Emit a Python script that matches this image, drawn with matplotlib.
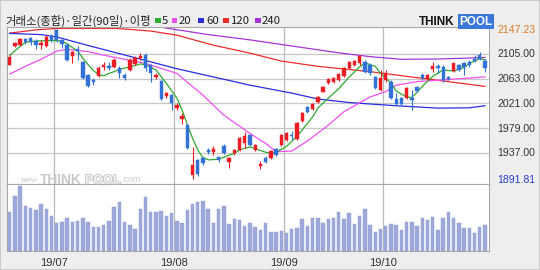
import matplotlib
matplotlib.use("Agg")
import matplotlib.pyplot as plt
from matplotlib.patches import Rectangle
from matplotlib.transforms import blended_transform_factory
import matplotlib.patheffects as pe
import numpy as np

# ---------------- data ----------------
opens = [2087, 2119, 2121, 2131, 2132, 2127, 2120, 2119, 2136, 2146,
         2128, 2120, 2102, 2113, 2091, 2069, 2061, 2068, 2083, 2085,
         2083, 2081, 2069, 2078, 2088, 2098, 2103, 2086, 2066, 2059,
         2033, 2035, 2014, 1995, 1984, 1899, 1925, 1928, 1941, 1939,
         1930, 1948, 1921, 1936, 1942, 1953, 1967, 1942, 1914, 1929,
         1928, 1944, 1950, 1959, 1967, 1960, 1991, 2015, 2011, 2023,
         2041, 2056, 2057, 2061, 2068, 2081, 2087, 2089, 2092, 2086,
         2066, 2044, 2061, 2058, 2028, 2030, 2030, 2031, 2049, 2069,
         2063, 2079, 2085, 2083, 2066, 2076, 2086, 2089, 2092, 2097,
         2104, 2093]
highs = [2104, 2126, 2133, 2133, 2134, 2130, 2129, 2137, 2139, 2147.23,
         2131, 2123, 2110, 2118, 2093, 2071, 2064, 2084, 2091, 2092,
         2099, 2084, 2073, 2098, 2101, 2106, 2106, 2088, 2072, 2061,
         2040, 2037, 2021, 2004, 1986, 1947, 1927, 1930, 1946, 1948,
         1932, 1952, 1930, 1943, 1964, 1973, 1969, 1952, 1923, 1931,
         1942, 1946, 1969, 1973, 1974, 1989, 2006, 2017, 2022, 2034,
         2051, 2065, 2066, 2073, 2083, 2093, 2095, 2104, 2095, 2089,
         2068, 2078, 2077, 2060, 2038, 2032, 2049, 2043, 2051, 2072,
         2071, 2091, 2088, 2086, 2068, 2090, 2088, 2092, 2094, 2104,
         2108, 2096]
lows = [2086, 2117, 2119, 2122, 2120, 2114, 2114, 2117, 2125, 2125,
        2115, 2093, 2089, 2095, 2062, 2049, 2053, 2066, 2078, 2077,
        2081, 2064, 2060, 2076, 2086, 2095, 2076, 2058, 2063, 2026,
        2031, 2010, 2009, 1986, 1944, 1891.81, 1897, 1917, 1935, 1934,
        1922, 1935, 1911, 1934, 1940, 1945, 1948, 1940, 1909, 1920,
        1926, 1931, 1948, 1957, 1958, 1958, 1989, 2005, 2009, 2021,
        2040, 2054, 2055, 2059, 2066, 2079, 2085, 2087, 2072, 2070,
        2045, 2042, 2058, 2029, 2018, 2018, 2028, 2010, 2040, 2060,
        2061, 2074, 2072, 2058, 2061, 2074, 2076, 2069, 2083, 2092,
        2094, 2075]
closes = [2100, 2124, 2130, 2125, 2126, 2120, 2123, 2134, 2128, 2129,
          2122, 2095, 2108, 2110, 2064, 2051, 2057, 2081, 2087, 2081,
          2095, 2072, 2065, 2095, 2098, 2102, 2082, 2072, 2070, 2028,
          2038, 2021, 2018, 2000, 1946, 1917, 1901, 1920, 1938, 1943,
          1924, 1937, 1928, 1941, 1962, 1965, 1950, 1950, 1918, 1922,
          1940, 1933, 1967, 1970, 1965, 1987, 2004, 2007, 2020, 2032,
          2049, 2063, 2064, 2071, 2081, 2091, 2093, 2102, 2074, 2073,
          2047, 2064, 2072, 2031, 2020, 2020, 2047, 2027, 2042, 2065,
          2069, 2084, 2081, 2061, 2063, 2089, 2078, 2083, 2086, 2093,
          2096, 2081]
volumes = [115, 165, 194, 134, 127, 122, 140, 124, 104, 82,
           86, 99, 87, 89, 99, 85, 70, 72, 78, 89,
           132, 146, 86, 76, 65, 125, 162, 115, 115, 118,
           105, 112, 89, 83, 122, 140, 145, 149, 126, 84,
           125, 134, 81, 94, 92, 75, 82, 72, 62, 82,
           57, 57, 59, 52, 65, 69, 94, 75, 99, 97,
           84, 94, 97, 117, 94, 112, 80, 104, 125, 77,
           57, 65, 75, 80, 77, 62, 85, 85, 75, 99,
           91, 101, 62, 99, 117, 97, 82, 69, 67, 54,
           70, 77]

# moving averages, read at selected trading-day positions
ma5_idx = [0, 2, 3, 5, 8, 10, 11, 12, 13, 14, 15, 16, 17, 18, 19, 20, 21, 23, 25, 26,
           28, 30, 32, 33, 34, 35, 36, 37, 38, 40, 42, 43, 44, 46, 47, 49, 50, 51, 53, 55,
           56, 58, 59, 61, 63, 64, 65, 67, 68, 70, 71, 73, 74, 76, 77, 78, 79, 81, 83, 85,
           87, 88, 90, 91]
ma5_val = [2103, 2118, 2125, 2127, 2128, 2127, 2122, 2116, 2110, 2098, 2087, 2077, 2070, 2068,
           2072, 2075, 2079, 2083, 2088, 2087, 2078, 2055, 2030, 2010, 1985, 1962, 1942, 1929,
           1925, 1926, 1933, 1936, 1942, 1947, 1944, 1938, 1936, 1938, 1948, 1965, 1976, 1998,
           2013, 2030, 2046, 2056, 2066, 2083, 2090, 2084, 2072, 2056, 2042, 2032, 2031, 2040,
           2050, 2067, 2078, 2076, 2082, 2089, 2097, 2095]
ma20_idx = [0, 3, 6, 9, 11, 15, 18, 22, 26, 32, 37, 41, 46, 49, 51, 54, 57, 61, 64, 69,
            72, 74, 78, 83, 91]
ma20_val = [2071, 2084, 2096, 2110, 2113, 2109, 2103, 2096, 2089, 2072, 2035, 2001, 1970,
            1953, 1939, 1940, 1957, 1984, 2007, 2032, 2041, 2052, 2058, 2061, 2066]
ma60_idx = [0, 6, 9, 15, 23, 32, 38, 46, 54, 59, 65, 69, 75, 82, 88, 91]
ma60_val = [2140, 2138, 2134, 2119.5, 2101, 2080, 2068, 2052, 2038.5, 2028.5, 2022.5, 2020,
            2016.5, 2013, 2013.5, 2017]
ma120_idx = [0, 5, 9, 20, 22, 27, 32, 39, 46, 52, 59, 69, 80, 91]
ma120_val = [2140.5, 2146, 2148.5, 2148.5, 2147.5, 2144, 2137, 2120, 2106.5, 2093, 2084,
             2075, 2062.5, 2050]
ma240_idx = [28, 30, 38, 46, 56, 63, 69, 75, 82, 91]
ma240_val = [2153, 2149, 2138, 2129, 2116, 2107, 2100.5, 2096, 2096.5, 2099]

price_ticks = [2147.23, 2105.00, 2063.00, 2021.00, 1979.00, 1937.00, 1891.81]
grid_levels = [2105, 2063, 2021, 1979, 1937]
month_pos = [8.5, 31.5, 52.5, 71.5]
month_labels = ["19/07", "19/08", "19/09", "19/10"]
title_text = "거래소(종합)·일간(90일)·이평"
legend_names = ["5", "20", "60", "120", "240"]

# ---------------- styling ----------------
W, H = 540, 270
def fx(px): return px / W
def fy(py): return 1 - py / H

UP, DOWN = "#ee1c24", "#3272d6"
MA_COLORS = ["#2eaa2e", "#f050f0", "#2a2ee0", "#f02b2b", "#a435d6"]
BG = "#eeeeee"
GRID = "#c6c6c6"
FRAME = "#a8a8a8"

fig = plt.figure(figsize=(5.4, 2.7), dpi=100)
fig.patch.set_facecolor(BG)

ax = fig.add_axes([fx(7), fy(184), fx(489) - fx(7), fy(27) - fy(184)])
axv = fig.add_axes([fx(7), fy(250.7), fx(489) - fx(7), fy(184) - fy(250.7)], sharex=ax)

n = len(closes)
idx = np.arange(n)
o = np.array(opens, float); c = np.array(closes, float)
h = np.array(highs, float); l = np.array(lows, float)
col = np.where(c >= o, UP, DOWN)

for a in (ax, axv):
    a.set_facecolor("white")
    for s in a.spines.values():
        s.set_color(FRAME)
        s.set_linewidth(0.8)
    a.tick_params(left=False, right=False, top=False, bottom=False, length=0,
                  labelleft=False, labelbottom=False)
    for m in month_pos:
        a.axvline(m, color="#b9b9b9", lw=0.9, zorder=1)

for g in grid_levels:
    ax.axhline(g, color=GRID, lw=0.9, zorder=1)

# moving averages (behind candles)
for xs, ys, cl in [(ma240_idx, ma240_val, MA_COLORS[4]), (ma120_idx, ma120_val, MA_COLORS[3]),
                   (ma60_idx, ma60_val, MA_COLORS[2]), (ma20_idx, ma20_val, MA_COLORS[1]),
                   (ma5_idx, ma5_val, MA_COLORS[0])]:
    ax.plot(xs, ys, color=cl, lw=0.9, zorder=2, solid_joinstyle="round")

# candles
ax.vlines(idx, l, h, colors=col, lw=0.8, zorder=3)
body_bottom = np.minimum(o, c)
body_h = np.maximum(np.abs(c - o), 0.9)
ax.bar(idx, body_h, bottom=body_bottom, width=0.64, color=col, edgecolor=col,
       linewidth=0.3, zorder=4)

ax.set_xlim(-0.52, 91.77)
ax.set_ylim(1884, 2150.9)

# volume
axv.bar(idx, volumes, width=0.66, color="#9ea8da", edgecolor="#8f9ad2", linewidth=0.3, zorder=2)
axv.set_ylim(0, 200)
axv.set_xticks(month_pos)
axv.set_xticklabels(month_labels)
axv.tick_params(labelbottom=True, length=0, pad=5, labelsize=8, labelcolor="#333333")
for t in axv.get_xticklabels():
    t.set_fontfamily("Liberation Sans")

# right-side price labels
tr = blended_transform_factory(ax.transAxes, ax.transData)
for i, v in enumerate(price_ticks):
    cl = "#e07a22" if i == 0 else ("#2c3ccc" if i == len(price_ticks) - 1 else "#333333")
    ax.text(1.0166, v - 0.8, f"{v:.2f}", transform=tr, va="center", ha="left",
            fontsize=7.6, color=cl, family="Liberation Sans", clip_on=False)

# title and MA legend
fig.text(fx(5), fy(24.5), title_text, fontsize=8.2, color="#222222",
         family=["Noto Sans CJK KR", "DejaVu Sans"], va="baseline", ha="left")
sq_x = [155, 171.7, 198, 223, 255]
lab_x = [162, 179, 206, 231, 262]
for sx, lx, cl, nm in zip(sq_x, lab_x, MA_COLORS, legend_names):
    fig.patches.append(Rectangle((fx(sx), fy(23.3)), 5.7 / W, 5.2 / H,
                                 transform=fig.transFigure, facecolor=cl, edgecolor="none"))
    fig.text(fx(lx), fy(24.5), nm, fontsize=8.2, color="#222222",
             family=["Noto Sans CJK KR", "DejaVu Sans"], va="baseline", ha="left")

# THINKPOOL logo
fig.text(fx(419), fy(24.8), "THINK", fontsize=8.5, fontweight="bold", color="#111111",
         family="Liberation Sans", va="baseline", ha="left")
fig.text(fx(459), fy(24.8), "POOL", fontsize=8.5, fontweight="bold", color="white",
         family="Liberation Sans", va="baseline", ha="left",
         bbox=dict(boxstyle="square,pad=0.12", facecolor="#3b78da", edgecolor="none"))

# watermark
wm = "#c9c9c9"
fig.text(fx(20), fy(182.5), "www.", fontsize=5.5, color=wm, family="Liberation Sans",
         va="baseline", ha="left")
fig.text(fx(40), fy(183.5), "THINK", fontsize=10, fontweight="bold", color=wm,
         family="Liberation Sans", va="baseline", ha="left")
fig.text(fx(85), fy(183.5), "POOL", fontsize=9, fontweight="bold", color="#f4f4f4",
         family="Liberation Sans", va="baseline", ha="left",
         path_effects=[pe.withStroke(linewidth=1.2, foreground="#c4c4c4")])
fig.text(fx(121.5), fy(182.5), ".com", fontsize=6.5, color=wm, family="Liberation Sans",
         va="baseline", ha="left")

# outer border
fig.patches.append(Rectangle((0, 0), 1, 1, transform=fig.transFigure, facecolor="none",
                             edgecolor="#c4c4c4", linewidth=1.2))

fig.savefig("out.png", dpi=100, facecolor=fig.get_facecolor())
